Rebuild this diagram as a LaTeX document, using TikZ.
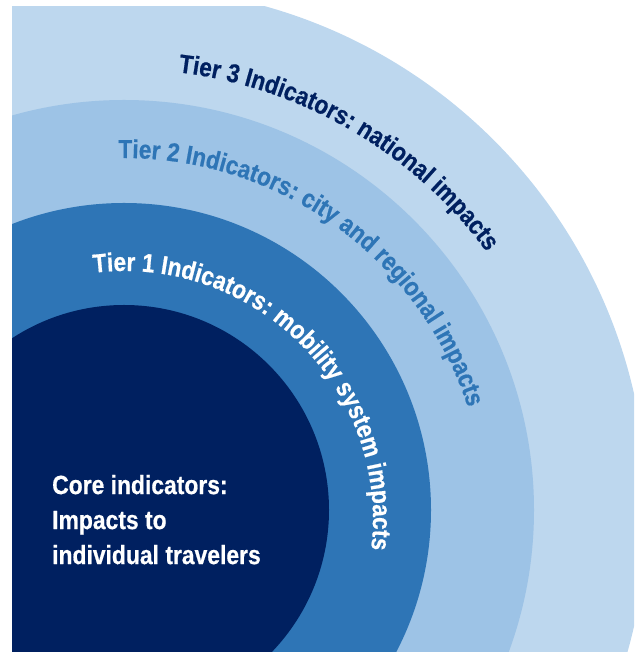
\documentclass[tikz,border=0pt]{standalone}
\usepackage{fontspec}
\setmainfont{Liberation Sans}[FakeStretch=0.87, BoldFeatures={FakeBold=0.6}]
\usetikzlibrary{decorations.text}
\definecolor{corecol}{HTML}{002060}
\definecolor{tieronecol}{HTML}{2E75B6}
\definecolor{tiertwocol}{HTML}{9DC3E6}
\definecolor{tierthreecol}{HTML}{BDD7EE}
\tikzset{
  arctext/.style n args={2}{decorate, decoration={text along path, text align=left,
     text={|\fontsize{26}{30}\selectfont\bfseries\color{#1}|#2}}}
}
\begin{document}
\begin{tikzpicture}[x=1pt,y=1pt]
\useasboundingbox (0,0) rectangle (634,652);
\coordinate (ctr) at (124,142);
\coordinate (tc) at (124,132);
\begin{scope}
  \clip (12,0) rectangle (634,645);
  \fill[tierthreecol] (ctr) circle (523);
  \fill[tiertwocol] (ctr) circle (410);
  \fill[tieronecol] (ctr) circle (307);
  \fill[corecol] (ctr) circle (205);
\end{scope}
\path[arctext={corecol}{Tier 3 Indicators: national impacts}]
  (tc) ++(83.1:451) arc[start angle=83.1, end angle=10, radius=451];
\path[arctext={tieronecol}{Tier 2 Indicators: city and regional impacts}]
  (tc) ++(90.9:362) arc[start angle=90.9, end angle=-10, radius=362];
\path[arctext={white}{Tier 1 Indicators: mobility system impacts}]
  (tc) ++(97:249) arc[start angle=97, end angle=-40, radius=249];
\node[anchor=north west, inner sep=0pt, align=left, text=white,
      font=\fontsize{26.3}{35}\selectfont\bfseries] (core) at (52,177.2)
  {Core indicators:\\Impacts to\\individual travelers};
\end{tikzpicture}
\end{document}
